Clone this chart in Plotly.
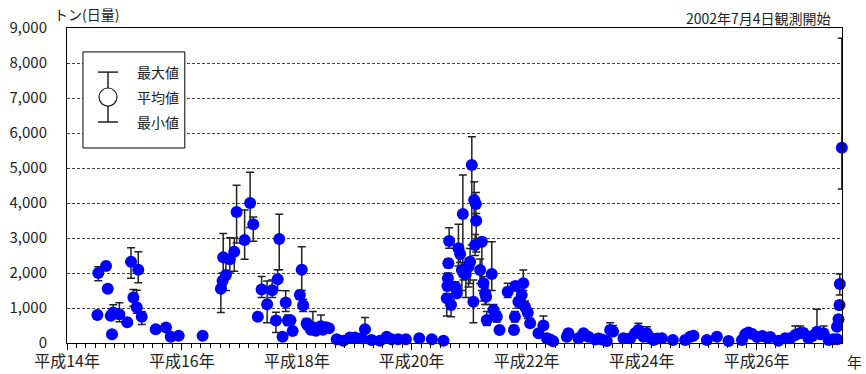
import plotly.graph_objects as go

# observation dates
dates = [
    "2002-07-13", "2002-07-19", "2002-09-06", "2002-09-17", "2002-10-06", "2002-10-14", "2002-10-22", "2002-11-30",
    "2003-01-19", "2003-02-12", "2003-02-27", "2003-03-20", "2003-03-30", "2003-04-21", "2003-07-19", "2003-09-22",
    "2003-10-22", "2003-12-12", "2004-05-12",
    "2004-09-05", "2004-09-16", "2004-09-20", "2004-10-07", "2004-11-01", "2004-11-29", "2004-12-14",
    "2005-02-03", "2005-03-10", "2005-03-30", "2005-04-28", "2005-05-22", "2005-06-26", "2005-07-28", "2005-08-21",
    "2005-09-01", "2005-09-11", "2005-10-02", "2005-10-22", "2005-11-05", "2005-11-21", "2005-12-05",
    "2006-01-20", "2006-02-01", "2006-02-10", "2006-03-04", "2006-03-12", "2006-03-31", "2006-04-13", "2006-05-02",
    "2006-05-15", "2006-06-03", "2006-06-16", "2006-07-05", "2006-07-24", "2006-09-11", "2006-10-23", "2006-12-04",
    "2007-01-05", "2007-02-17", "2007-03-10", "2007-04-21", "2007-06-13", "2007-07-26", "2007-08-26", "2007-10-07",
    "2007-11-25", "2008-02-18", "2008-05-08", "2008-07-21",
    "2008-08-11", "2008-08-15", "2008-08-18", "2008-08-21", "2008-08-26", "2008-09-07", "2008-10-03", "2008-10-14",
    "2008-10-24", "2008-11-04", "2008-11-15", "2008-11-21", "2008-11-25", "2008-12-10", "2008-12-27",
    "2009-01-06", "2009-01-17", "2009-01-27", "2009-02-01", "2009-02-07", "2009-02-12", "2009-02-14", "2009-03-11",
    "2009-03-22", "2009-04-01", "2009-04-12", "2009-04-18", "2009-04-22", "2009-05-24", "2009-06-04", "2009-06-25",
    "2009-07-12", "2009-09-02", "2009-10-12", "2009-10-18", "2009-10-21", "2009-11-09", "2009-11-30", "2009-12-10",
    "2009-12-21", "2010-01-08", "2010-01-23", "2010-03-17", "2010-04-17", "2010-05-09", "2010-05-30", "2010-06-18",
    "2010-09-13", "2010-09-23", "2010-11-26", "2010-12-28", "2011-01-28", "2011-03-12", "2011-04-02", "2011-04-24",
    "2011-05-25", "2011-06-15", "2011-07-04", "2011-09-08", "2011-10-21", "2011-11-21", "2011-12-12",
    "2012-01-13", "2012-02-04", "2012-02-25", "2012-03-17", "2012-04-09", "2012-05-09", "2012-07-18", "2012-10-04",
    "2012-11-05", "2012-11-26", "2013-02-19", "2013-04-24", "2013-07-07", "2013-09-30", "2013-10-21", "2013-11-11",
    "2013-12-04", "2014-01-05", "2014-02-06", "2014-03-10", "2014-03-29", "2014-05-20", "2014-07-02", "2014-08-03",
    "2014-09-04", "2014-10-05", "2014-10-26", "2014-11-27", "2014-12-21", "2015-01-20", "2015-02-10", "2015-03-03",
    "2015-04-04", "2015-05-03", "2015-05-27", "2015-05-29", "2015-06-06", "2015-06-12", "2015-06-14", "2015-06-27",
]

# daily mean (t/day)
mean_vals = [
    800, 2000, 2200, 1550, 780, 250, 870, 820,
    590, 2320, 1300, 1020, 2090, 750, 390, 440,
    180, 210, 210,
    1550, 1780, 2450, 1940, 2390, 2610, 3740,
    2940, 4000, 3390, 750, 1530, 1110, 1510, 640,
    1820, 2970, 180, 1160, 640, 650, 340,
    1370, 2090, 1080, 560, 500, 380, 450, 350,
    420, 480, 380, 450, 420, 105, 67, 160,
    160, 133, 390, 86, 67, 180, 105, 105,
    105, 133, 105, 67,
    1276, 1630, 1850, 2280, 2914, 1086, 1610, 1419,
    2705, 2543, 2086, 3686, 2000, 1971, 2181,
    2324, 5086, 1181, 4086, 2800, 3971, 3495, 2086,
    2895, 1705, 1419, 1324, 657, 1971, 943, 752,
    371, 1467, 371, 752, 1629, 1181, 1371, 1705,
    1038, 867, 562, 276, 500, 133, 100, 50,
    180, 276, 133, 276, 180, 100, 130, 100,
    60, 371, 330, 133, 133, 276, 371,
    180, 276, 150, 86, 130, 133, 86, 86,
    180, 210, 86, 180, 57, 86, 250, 300,
    260, 170, 200, 150, 170, 67, 133, 133,
    229, 286, 286, 133, 200, 324, 250, 276,
    86, 110, 467, 110, 676, 1086, 1686, 5580,
]

# daily maximum
max_vals = [
    880, 2180, 2300, 1650, 860, 300, 1090, 1150,
    650, 2720, 1530, 1510, 2610, 900, 450, 500,
    230, 260, 260,
    1800, 2000, 3130, 2300, 3010, 3000, 4510,
    3800, 4880, 3600, 820, 1900, 1770, 1800, 880,
    2090, 3680, 250, 1490, 800, 750, 420,
    1500, 2750, 1250, 700, 650, 500, 900, 450,
    550, 800, 500, 550, 500, 150, 110, 220,
    220, 180, 730, 130, 110, 250, 150, 150,
    150, 180, 150, 110,
    1400, 1750, 2000, 2400, 3295, 1250, 1750, 1550,
    3390, 2700, 2300, 4800, 2200, 2200, 2400,
    2700, 5895, 1800, 4609, 3100, 4300, 3700, 2400,
    3000, 1900, 1600, 1500, 900, 2895, 1100, 900,
    450, 1705, 500, 900, 1750, 1300, 1500, 2086,
    1200, 1000, 700, 350, 771, 180, 150, 90,
    250, 350, 180, 350, 250, 150, 180, 150,
    100, 581, 500, 180, 180, 350, 562,
    250, 467, 200, 130, 180, 180, 130, 130,
    250, 280, 130, 250, 100, 130, 320, 380,
    330, 240, 260, 210, 230, 110, 180, 180,
    486, 486, 400, 180, 280, 962, 320, 486,
    130, 160, 550, 160, 800, 1200, 1971, 8706,
]

# daily minimum
min_vals = [
    720, 1780, 2100, 1450, 700, 200, 700, 610,
    530, 1850, 1050, 850, 1720, 530, 330, 380,
    130, 160, 160,
    870, 1500, 1850, 1500, 2000, 2050, 2860,
    2390, 3300, 2910, 680, 1300, 580, 1300, 300,
    1500, 2090, 120, 900, 500, 550, 280,
    1250, 1500, 900, 450, 400, 300, 350, 280,
    330, 350, 300, 350, 350, 60, 30, 100,
    100, 90, 300, 50, 30, 120, 60, 60,
    60, 90, 60, 30,
    771, 1500, 1700, 2150, 2705, 752, 1450, 1300,
    2200, 2300, 1500, 2000, 1800, 1300, 1600,
    1700, 2800, 581, 3500, 2500, 3400, 2600, 1700,
    1500, 1200, 1100, 1100, 500, 1500, 800, 600,
    300, 1300, 300, 600, 1500, 1000, 1200, 1500,
    900, 700, 450, 200, 400, 90, 60, 20,
    120, 200, 90, 200, 120, 60, 80, 60,
    30, 300, 250, 90, 90, 200, 300,
    120, 200, 100, 50, 80, 90, 50, 50,
    120, 150, 50, 120, 20, 50, 180, 230,
    190, 110, 140, 100, 110, 30, 90, 90,
    150, 200, 200, 90, 130, 200, 180, 200,
    50, 60, 400, 60, 550, 950, 1371, 4400,
]

# x tick labels (Japanese era years) keyed by the Western year shown by the axis
tick_years = ["2002", "2004", "2006", "2008", "2010", "2012", "2014"]
tick_labels = ["平成14年", "平成16年", "平成18年", "平成20年",
               "平成22年", "平成24年", "平成26年"]

err_plus = [mx - m for mx, m in zip(max_vals, mean_vals)]
err_minus = [m - mn for m, mn in zip(mean_vals, min_vals)]

FONT = "Noto Sans CJK JP"

fig = go.Figure()
fig.add_trace(go.Scatter(
    x=dates, y=mean_vals, mode="markers",
    marker=dict(size=12, color="#0000FF", line=dict(width=0)),
    error_y=dict(type="data", symmetric=False, array=err_plus, arrayminus=err_minus,
                 color="#222222", thickness=1.5, width=4),
    cliponaxis=False, showlegend=False,
))

fig.update_layout(
    width=866, height=374,
    margin=dict(l=67, r=24, t=28, b=31, autoexpand=False),
    paper_bgcolor="white", plot_bgcolor="white",
    font=dict(family=FONT, color="#222222"),
    showlegend=False,
)

fig.update_xaxes(
    type="date", range=["2002-01-01", "2015-06-28"], automargin=False,
    tick0="2002-01-01", dtick="M24", tickformat="%Y",
    labelalias=dict(zip(tick_years, tick_labels)),
    tickfont=dict(size=16, family=FONT, color="#222222"),
    ticks="outside", ticklen=6, tickwidth=1, tickcolor="black",
    ticklabelstandoff=-2,
    minor=dict(ticks="outside", ticklen=4, tickwidth=1, tickcolor="black",
               dtick="M2", tick0="2002-01-01", showgrid=False),
    showgrid=False, zeroline=False,
    showline=True, linecolor="black", linewidth=1, mirror=True,
)
fig.update_yaxes(
    range=[0, 9000], dtick=1000, tickformat=",", automargin=False,
    tickfont=dict(size=15, family=FONT, color="#222222"),
    ticks="", ticklabelstandoff=16,
    showgrid=True, gridcolor="#404040", gridwidth=1, griddash="3px,2px",
    zeroline=False,
    showline=True, linecolor="black", linewidth=1, mirror=True,
)

# legend box (drawn as decoration)
fig.add_shape(type="rect", xref="paper", yref="paper", x0=0.0206, x1=0.152, y0=0.619, y1=0.924,
              line=dict(color="black", width=1), fillcolor="white", layer="above")
fig.add_shape(type="line", xref="paper", yref="paper", x0=0.0529, x1=0.0529, y0=0.8095, y1=0.860,
              line=dict(color="#222222", width=1.5))
fig.add_shape(type="line", xref="paper", yref="paper", x0=0.0529, x1=0.0529, y0=0.7016, y1=0.752,
              line=dict(color="#222222", width=1.5))
fig.add_shape(type="line", xref="paper", yref="paper", x0=0.0400, x1=0.0658, y0=0.860, y1=0.860,
              line=dict(color="#222222", width=1.5))
fig.add_shape(type="line", xref="paper", yref="paper", x0=0.0400, x1=0.0658, y0=0.7016, y1=0.7016,
              line=dict(color="#222222", width=1.5))
fig.add_shape(type="circle", xref="paper", yref="paper", x0=0.0413, x1=0.0645, y0=0.752, y1=0.8095,
              line=dict(color="#222222", width=1.2), fillcolor="white")

for txt, yy in [("最大値", 0.860), ("平均値", 0.781), ("最小値", 0.7016)]:
    fig.add_annotation(text=txt, xref="paper", yref="paper", x=0.0877, y=yy,
                       xanchor="left", yanchor="middle", showarrow=False,
                       font=dict(size=14, family=FONT, color="#222222"))

fig.add_annotation(text="トン(日量)", xref="paper", yref="paper", x=-0.0194, y=1,
                   xanchor="left", yanchor="bottom", yshift=2, showarrow=False,
                   font=dict(size=14, family=FONT, color="#222222"))
fig.add_annotation(text="2002年7月4日観測開始", xref="paper", yref="paper", x=0.988, y=1,
                   xanchor="right", yanchor="bottom", yshift=-2, showarrow=False,
                   font=dict(size=14, family=FONT, color="#222222"))
fig.add_annotation(text="年", xref="paper", yref="paper", x=1, y=0,
                   xanchor="left", yanchor="top", xshift=3, yshift=-6, showarrow=False,
                   font=dict(size=15, family=FONT, color="#222222"))

fig.write_html("out.html", config={"displayModeBar": False},
               post_script="document.body.style.margin='0px';")
